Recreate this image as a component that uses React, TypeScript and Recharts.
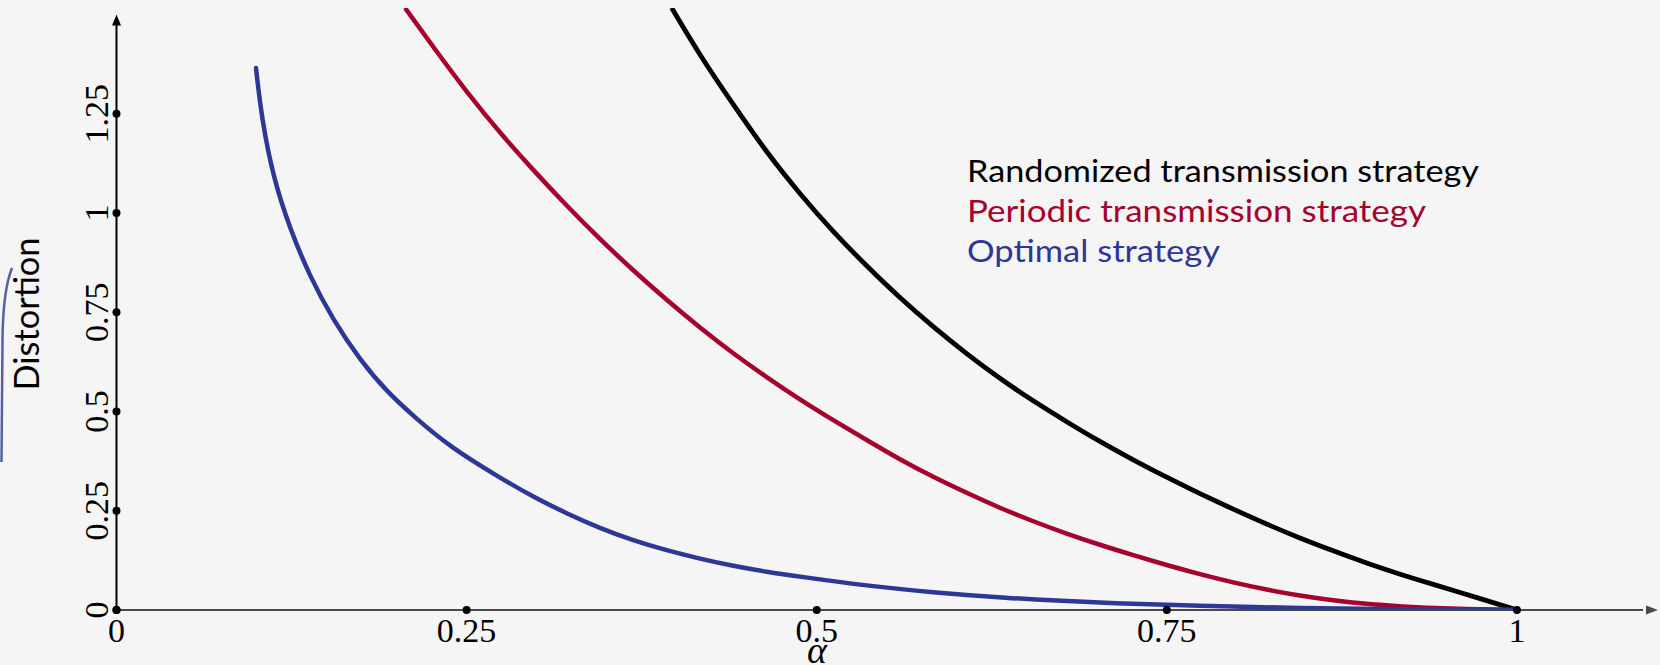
import React from 'react';
import { LineChart, Line, XAxis, YAxis, ReferenceLine, ReferenceDot } from 'recharts';

// ---- data ----
const alphaTicks = [0, 0.25, 0.5, 0.75, 1];
const xTickLabels = ['0', '0.25', '0.5', '0.75', '1'];
const distortionTicks = [0, 0.25, 0.5, 0.75, 1, 1.25];
const yTickLabels = ['0', '0.25', '0.5', '0.75', '1', '1.25'];

const randomizedAlpha = [0.3964, 0.4166, 0.4404, 0.4643, 0.488, 0.5118, 0.5357, 0.5594, 0.5832, 0.6071, 0.6308, 0.6546, 0.6785, 0.7022, 0.726, 0.7499, 0.7737, 0.7974, 0.8213, 0.845, 0.8688, 0.8927, 0.9165, 0.9379, 0.9736, 1.0];
const randomizedDist = [1.517, 1.397, 1.273, 1.152, 1.048, 0.952, 0.866, 0.786, 0.713, 0.645, 0.583, 0.526, 0.474, 0.424, 0.378, 0.334, 0.293, 0.254, 0.216, 0.181, 0.149, 0.118, 0.090, 0.067, 0.029, 0.0];

const periodicAlpha = [0.206, 0.2262, 0.25, 0.2738, 0.2976, 0.3215, 0.3452, 0.369, 0.3929, 0.4167, 0.4404, 0.4643, 0.488, 0.5118, 0.5357, 0.5594, 0.5832, 0.6071, 0.6308, 0.6546, 0.6785, 0.7022, 0.726, 0.7499, 0.7737, 0.7974, 0.8213, 0.845, 0.8688, 0.8927, 0.9165, 0.95, 1.0];
const periodicDist = [1.517, 1.418, 1.305, 1.202, 1.108, 1.018, 0.934, 0.855, 0.781, 0.711, 0.646, 0.586, 0.530, 0.478, 0.428, 0.379, 0.335, 0.295, 0.257, 0.223, 0.192, 0.164, 0.138, 0.113, 0.090, 0.069, 0.051, 0.036, 0.024, 0.015, 0.009, 0.003, 0.0];

const optimalAlpha = [0.0996, 0.1037, 0.112, 0.1239, 0.1382, 0.1548, 0.1739, 0.1929, 0.2144, 0.2381, 0.2738, 0.2976, 0.3215, 0.3452, 0.369, 0.3929, 0.4167, 0.4404, 0.4643, 0.488, 0.5357, 0.5832, 0.6308, 0.7022, 0.7737, 0.845, 0.9165, 1.0];
const optimalDist = [1.365, 1.238, 1.088, 0.960, 0.839, 0.730, 0.630, 0.550, 0.481, 0.411, 0.333, 0.285, 0.243, 0.206, 0.175, 0.150, 0.129, 0.111, 0.096, 0.084, 0.061, 0.044, 0.031, 0.018, 0.010, 0.005, 0.002, 0.0];

const seriesNames = ['Randomized transmission strategy', 'Periodic transmission strategy', 'Optimal strategy'];

const BLACK = '#000000';
const RED = '#a5002e';
const BLUE = '#2f3796';
const BG = '#f5f5f5';

const toPoints = (xs: number[], ys: number[]) => xs.map((a, i) => ({ alpha: a, d: ys[i] }));
const randomized = toPoints(randomizedAlpha, randomizedDist);
const periodic = toPoints(periodicAlpha, periodicDist);
const optimal = toPoints(optimalAlpha, optimalDist);

const serif = '"Liberation Serif", "DejaVu Serif", serif';
const sans = 'Lato, "Noto Sans", sans-serif';

const XTick = (props: any) => {
  const { x, y, payload } = props;
  const label = xTickLabels[alphaTicks.indexOf(payload.value)];
  return (
    <text x={x} y={y + 32} textAnchor="middle" fontFamily={serif} fontSize={34} fill="#000">
      {label}
    </text>
  );
};

const YTick = (props: any) => {
  const { x, y, payload } = props;
  const label = yTickLabels[distortionTicks.indexOf(payload.value)];
  const bx = x - 8.5;
  return (
    <text x={bx} y={y} transform={`rotate(-90 ${bx} ${y})`} textAnchor="middle" fontFamily={serif} fontSize={34} fill="#000">
      {label}
    </text>
  );
};

const XArrow = (p: any) => (
  <path d={`M${p.cx + 1},${p.cy} l-12,-4.5 l0,9 z`} fill="#4a4a4a" />
);
const YArrow = (p: any) => (
  <path d={`M${p.cx},${p.cy} l-4.5,11 l9,0 z`} fill="#000" />
);

export default function App() {
  return (
    <div style={{ position: 'relative', width: 1660, height: 665, background: BG, overflow: 'hidden' }}>
      <style>{`body{margin:0;background:${BG};}`}</style>
      <LineChart width={1660} height={665} margin={{ top: 8, right: 3, bottom: 5, left: 16.5 }}>
        <XAxis
          type="number"
          dataKey="alpha"
          domain={[0, 1.1]}
          ticks={alphaTicks}
          interval={0}
          axisLine={false}
          tickLine={false}
          tickSize={0}
          tickMargin={0}
          height={50}
          tick={<XTick />}
          allowDataOverflow
        />
        <YAxis
          type="number"
          dataKey="d"
          domain={[0, 1.5164]}
          ticks={distortionTicks}
          interval={0}
          axisLine={false}
          tickLine={false}
          tickSize={0}
          tickMargin={0}
          width={100}
          tick={<YTick />}
          allowDataOverflow
        />
        <ReferenceLine segment={[{ x: 0, y: 0 }, { x: 1.09, y: 0 }]} stroke="#4a4a4a" strokeWidth={2} ifOverflow="visible" />
        <ReferenceLine segment={[{ x: 0, y: 0 }, { x: 0, y: 1.48 }]} stroke="#000" strokeWidth={2} ifOverflow="visible" />
        <ReferenceDot x={1.1} y={0} r={5} shape={<XArrow />} ifOverflow="visible" />
        <ReferenceDot x={0} y={1.5} r={5} shape={<YArrow />} ifOverflow="visible" />
        <Line data={randomized} dataKey="d" name={seriesNames[0]} type="basis" stroke={BLACK} strokeWidth={4.8} dot={false} activeDot={false} isAnimationActive={false} />
        <Line data={periodic} dataKey="d" name={seriesNames[1]} type="basis" stroke={RED} strokeWidth={4.5} dot={false} activeDot={false} isAnimationActive={false} />
        <Line data={optimal} dataKey="d" name={seriesNames[2]} type="basis" stroke={BLUE} strokeWidth={4.5} strokeLinecap="round" dot={false} activeDot={false} isAnimationActive={false} />
        {alphaTicks.map((t) => (
          <ReferenceDot key={'xd' + t} x={t} y={0} r={4} fill="#000" stroke="none" ifOverflow="visible" />
        ))}
        {distortionTicks.map((t) => (
          <ReferenceDot key={'yd' + t} x={0} y={t} r={4} fill="#000" stroke="none" ifOverflow="visible" />
        ))}
      </LineChart>
      <svg width={1660} height={665} style={{ position: 'absolute', left: 0, top: 0, pointerEvents: 'none' }}>
        <path d="M12,268 Q3,290 2.5,340 L1.5,462" stroke={BLUE} strokeWidth={2.5} fill="none" opacity={0.8} />
        <text x={39} y={314} transform="rotate(-90 39 314)" textAnchor="middle" fontFamily={sans} fontSize={35} textLength={153} lengthAdjust="spacingAndGlyphs" fill="#000">
          Distortion
        </text>
        <text x={817} y={663} textAnchor="middle" fontFamily={serif} fontStyle="italic" fontSize={38} fill="#000">
          α
        </text>
        <text x={967} y={181.7} fontFamily={sans} fontSize={31} textLength={512} lengthAdjust="spacingAndGlyphs" fill={BLACK}>
          {seriesNames[0]}
        </text>
        <text x={967} y={221.7} fontFamily={sans} fontSize={31} textLength={459} lengthAdjust="spacingAndGlyphs" fill={RED}>
          {seriesNames[1]}
        </text>
        <text x={967} y={261.7} fontFamily={sans} fontSize={31} textLength={253} lengthAdjust="spacingAndGlyphs" fill={BLUE}>
          {seriesNames[2]}
        </text>
      </svg>
    </div>
  );
}
